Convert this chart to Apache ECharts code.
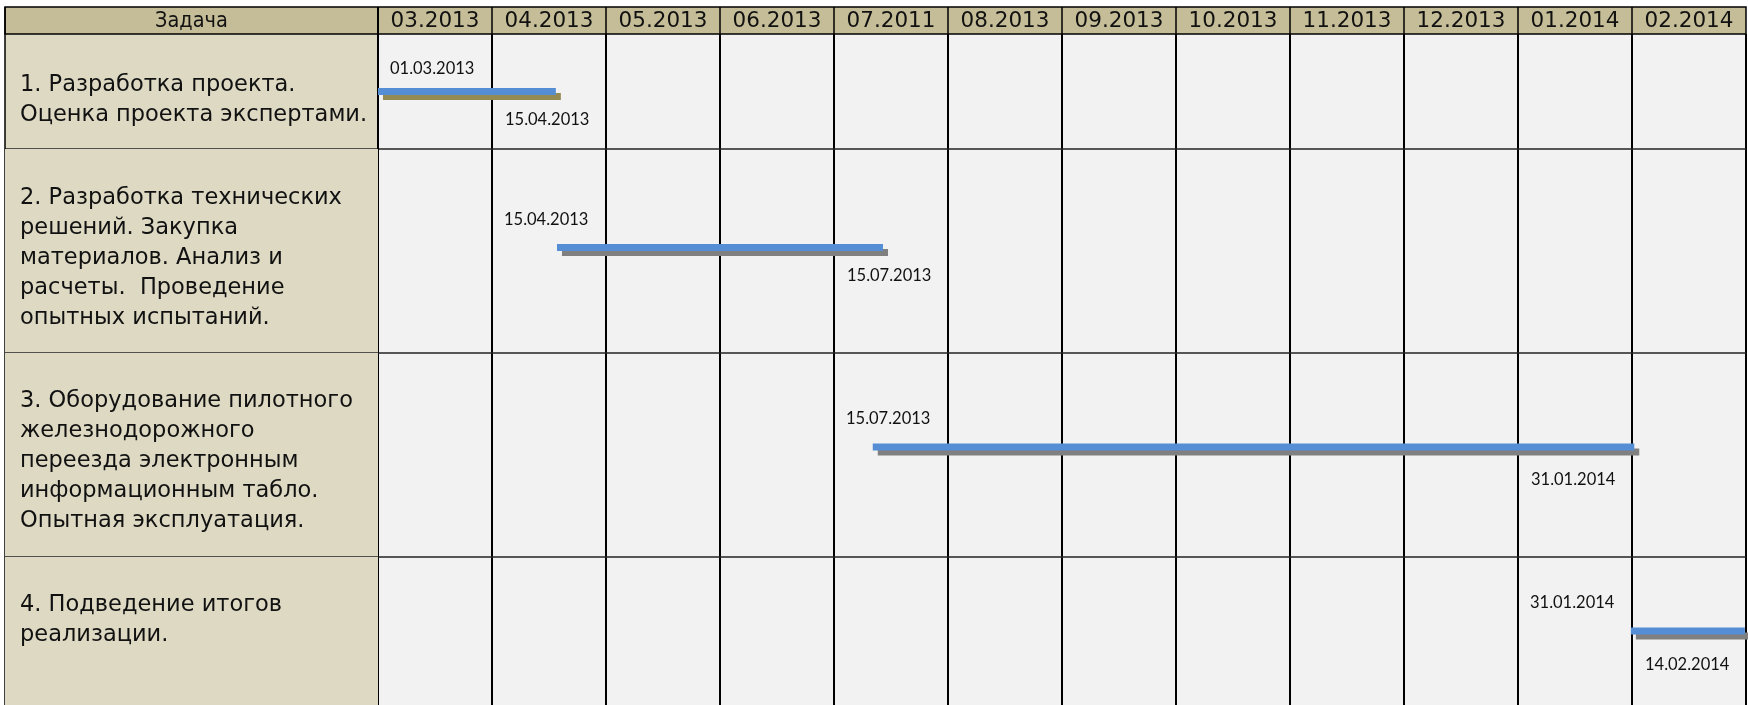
<!DOCTYPE html>
<html>
<head>
<meta charset="utf-8">
<title>Gantt</title>
<script src="https://cdn.jsdelivr.net/npm/echarts@6/dist/echarts.min.js"></script>
<style>
  html, body { margin: 0; padding: 0; background: #fff; }
  #chart { width: 1748px; height: 705px; }
</style>
</head>
<body>
<div id="chart"></div>
<script>
// header of the table (note: 07.2011 is how it is written in the original)
var months = ['03.2013', '04.2013', '05.2013', '06.2013', '07.2011', '08.2013',
  '09.2013', '10.2013', '11.2013', '12.2013', '01.2014', '02.2014'];
var headerTitle = 'Задача';

var tasks = [
  '1. Разработка проекта.\nОценка проекта экспертами.',
  '2. Разработка технических\nрешений. Закупка\nматериалов. Анализ и\nрасчеты.  Проведение\nопытных испытаний.',
  '3. Оборудование пилотного\nжелезнодорожного\nпереезда электронным\nинформационным табло.\nОпытная эксплуатация.',
  '4. Подведение итогов\nреализации.'
];

var startDates = ['01.03.2013', '15.04.2013', '15.07.2013', '31.01.2014'];
var endDates = ['15.04.2013', '15.07.2013', '31.01.2014', '14.02.2014'];

// bars as drawn, in months counted from 01.03.2013
var barStart = [0, 1.57, 4.34, 10.99];
var barEnd = [1.56, 4.43, 11.02, 11.99];

// layout
var tableLeft = 5;
var headerH = 27;
var rowHeights = [115, 204, 204, 148];
var textNudge = [9, 7, 6, -11];
var barNudge = [0, -3.5, -8, 0];
var labelUp = [22.5, 28, 28.5, 28.5];
var labelDown = [28.5, 28, 32.5, 33.5];
var shadowColors = ['#948A54', '#808080', '#808080', '#808080'];
var rowEdges = [0];
rowHeights.forEach(function (h, i) { rowEdges.push(rowEdges[i] + h); });

// column of the month a date string falls in
function dateCol(s) {
  var p = s.split('.');
  return (parseInt(p[2], 10) - 2013) * 12 + parseInt(p[1], 10) - 3;
}

var chart = echarts.init(document.getElementById('chart'));

function renderTable(params, api) {
  var i = api.value(1);
  var cs = params.coordSys;
  var right = cs.x + cs.width;
  var top = api.coord([0, rowEdges[i]])[1];
  var bot = api.coord([0, rowEdges[i + 1]])[1];
  var children = [];

  children.push({
    type: 'rect',
    shape: { x: tableLeft, y: top, width: cs.x - tableLeft, height: bot - top },
    style: { fill: '#DDD9C3' }
  });
  children.push({
    type: 'text',
    style: {
      text: tasks[i], x: 20, y: (top + bot) / 2 + textNudge[i],
      fill: '#111', fontFamily: 'DejaVu Sans', fontSize: 22.5, lineHeight: 30,
      align: 'left', verticalAlign: 'middle'
    }
  });
  if (i < tasks.length - 1) {
    children.push({
      type: 'line',
      shape: { x1: tableLeft, y1: bot, x2: right, y2: bot },
      style: { stroke: '#222', lineWidth: 1.5 }
    });
  }

  if (i === 0) {
    var htop = cs.y - headerH;
    children.push({
      type: 'rect',
      shape: { x: tableLeft, y: htop, width: right - tableLeft, height: headerH },
      style: { fill: '#C4BD97', stroke: '#000', lineWidth: 1.5 }
    });
    children.push({
      type: 'text',
      style: {
        text: headerTitle, x: (tableLeft + cs.x) / 2, y: htop + headerH / 2 + 1,
        fill: '#111', fontFamily: 'DejaVu Sans Condensed', fontSize: 21.5,
        align: 'center', verticalAlign: 'middle'
      }
    });
    months.forEach(function (m, j) {
      var x0 = api.coord([j, 0])[0];
      children.push({
        type: 'line',
        shape: { x1: x0, y1: htop, x2: x0, y2: cs.y },
        style: { stroke: '#000', lineWidth: 1.5 }
      });
      children.push({
        type: 'text',
        style: {
          text: m, x: api.coord([j + 0.5, 0])[0], y: htop + headerH / 2 + 1,
          fill: '#111', fontFamily: 'DejaVu Sans', fontSize: 21.5,
          align: 'center', verticalAlign: 'middle'
        }
      });
    });
    // left border of the whole table
    children.push({
      type: 'line',
      shape: { x1: tableLeft, y1: htop, x2: tableLeft, y2: cs.y + cs.height },
      style: { stroke: '#000', lineWidth: 1.5 }
    });
    children.push({
      type: 'line',
      shape: { x1: cs.x, y1: htop, x2: cs.x, y2: cs.y + cs.height },
      style: { stroke: '#000', lineWidth: 2 }
    });
  }
  return { type: 'group', children: children };
}

function renderBar(params, api) {
  var i = api.value(2);
  var yMid = (rowEdges[i] + rowEdges[i + 1]) / 2 + barNudge[i];
  var p0 = api.coord([api.value(0), yMid]);
  var p1 = api.coord([api.value(1), yMid]);
  var h = 7;
  var lblFont = { fill: '#111', fontFamily: 'Lato', fontSize: 16.5, align: 'left', verticalAlign: 'middle' };
  return {
    type: 'group',
    children: [
      {
        type: 'rect',
        shape: { x: p0[0] + 5, y: p0[1] - h / 2 + 5, width: p1[0] - p0[0], height: h },
        style: { fill: shadowColors[i] }
      },
      {
        type: 'rect',
        shape: { x: p0[0], y: p0[1] - h / 2, width: p1[0] - p0[0], height: h },
        style: { fill: '#558ED5' }
      },
      {
        type: 'text',
        style: Object.assign({
          text: startDates[i], x: api.coord([dateCol(startDates[i]), 0])[0] + 12, y: p0[1] - labelUp[i]
        }, lblFont)
      },
      {
        type: 'text',
        style: Object.assign({
          text: endDates[i], x: api.coord([dateCol(endDates[i]), 0])[0] + 13, y: p0[1] + labelDown[i]
        }, lblFont)
      }
    ]
  };
}

chart.setOption({
  animation: false,
  backgroundColor: '#fff',
  grid: {
    left: 378, right: 2, top: 34, bottom: 0,
    show: true, backgroundColor: '#F2F2F2', borderWidth: 0
  },
  xAxis: {
    type: 'value', min: 0, max: 12, interval: 1,
    axisLine: { show: false }, axisTick: { show: false }, axisLabel: { show: false },
    splitLine: { show: true, lineStyle: { color: '#000', width: 2 } }
  },
  yAxis: {
    type: 'value', inverse: true, min: 0, max: rowEdges[rowEdges.length - 1],
    axisLine: { show: false }, axisTick: { show: false }, axisLabel: { show: false },
    splitLine: { show: false }
  },
  series: [
    {
      type: 'custom',
      name: 'table',
      renderItem: renderTable,
      encode: { x: 0, y: 1 },
      data: tasks.map(function (t, i) { return [0, i]; }),
      z: 1
    },
    {
      type: 'custom',
      name: 'bars',
      renderItem: renderBar,
      encode: { x: [0, 1], y: 2 },
      data: tasks.map(function (t, i) { return [barStart[i], barEnd[i], i]; }),
      z: 3
    }
  ]
});
</script>
</body>
</html>
